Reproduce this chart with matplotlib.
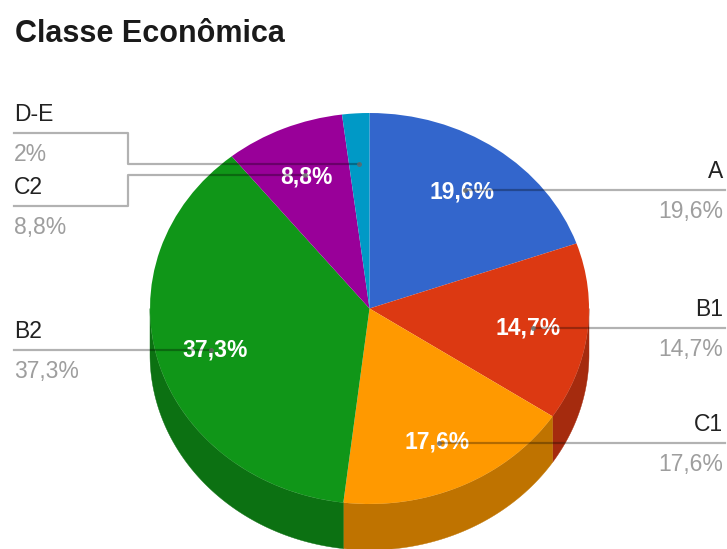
import numpy as np
import matplotlib.pyplot as plt

# Data
classes = ['A', 'B1', 'C1', 'B2', 'C2', 'D-E']
shares = [19.6, 14.7, 17.6, 37.3, 8.8, 2.0]
share_labels = ['19,6%', '14,7%', '17,6%', '37,3%', '8,8%', '2%']
colors = ['#3366cc', '#dc3912', '#ff9900', '#109618', '#990099', '#0099c6']

# Pie geometry in pixels
W, H = 727, 549
cx, cy = 369.5, 308.5
rx, ry = 219.5, 195.5
depth = 46
label_r = 0.75

plt.rcParams['font.family'] = ['Liberation Sans', 'DejaVu Sans']

fig = plt.figure(figsize=(W / 100, H / 100), dpi=100)

# Pie axes: unit circle stretched to an ellipse, y pointing up
ax = fig.add_axes([0, 0, 1, 1])
ax.pie(shares, colors=colors, startangle=90, counterclock=False, radius=1,
       wedgeprops={'linewidth': 0, 'zorder': 3})
ax.set_aspect('auto')
ax.set_xlim(-cx / rx, (W - cx) / rx)
ax.set_ylim((cy - H) / ry, cy / ry)
ax.axis('off')

# Clockwise angles from the top, slice edges and midpoints
edges = np.cumsum([0] + shares) / np.sum(shares) * 2 * np.pi
mids = (edges[:-1] + edges[1:]) / 2


def shade(hex_color, f=0.75):
    rgb = [int(hex_color[i:i + 2], 16) / 255 for i in (1, 3, 5)]
    return [c * f for c in rgb]


# Side wall, only the front half of the rim shows
drop = depth / ry
for i, col in enumerate(colors):
    a0 = max(edges[i], np.pi / 2)
    a1 = min(edges[i + 1], 3 * np.pi / 2)
    if a1 <= a0:
        continue
    t = np.linspace(a0, a1, 80)
    xs = np.concatenate([np.sin(t), np.sin(t[::-1])])
    ys = np.concatenate([np.cos(t), np.cos(t[::-1]) - drop])
    ax.fill(xs, ys, color=shade(col), lw=0.3, zorder=2)

# Overlay axes in pixel coordinates for leader lines and text
ov = fig.add_axes([0, 0, 1, 1], facecolor='none')
ov.set_xlim(0, W)
ov.set_ylim(H, 0)
ov.axis('off')

anchor_x = cx + label_r * rx * np.sin(mids)
anchor_y = cy + 1.5 - label_r * ry * np.cos(mids)

FS = 16.5
DARK = '#222222'
GREY = '#9e9e9e'
LINE = (0, 0, 0, 0.3)
LEFT, RIGHT = 14, 725
ELBOW = 128

# Rows of the outer labels that sit on an elbow line
row_y = {'C2': 206, 'D-E': 133}

for i, name in enumerate(classes):
    px, py = anchor_x[i], anchor_y[i]
    # thin slices get no label on the pie itself
    if shares[i] >= 5:
        text_x = cx + 0.73 * rx * np.sin(mids[i])
        text_y = cy + 2 - 0.74 * ry * np.cos(mids[i])
        ov.text(text_x, text_y, share_labels[i], color='white', fontsize=FS,
                fontweight='bold', ha='center', va='center', zorder=4)
    if name in ('A', 'B1', 'C1'):
        ov.plot([px, RIGHT], [py, py], color=LINE, lw=1.6, zorder=5)
        tx, ha, ty = RIGHT - 2, 'right', py
    elif name not in row_y:
        ov.plot([LEFT, px], [py, py], color=LINE, lw=1.6, zorder=5)
        tx, ha, ty = LEFT, 'left', py
    else:
        ty = row_y[name]
        ov.plot([LEFT, ELBOW, ELBOW, px], [ty, ty, py, py], color=LINE, lw=1.6, zorder=5)
        tx, ha = LEFT, 'left'
    ov.plot([px], [py], 'o', ms=3.6, color='#666666', mew=0, alpha=0.8, zorder=6)
    ov.text(tx, ty - 12, name, color=DARK, fontsize=FS, ha=ha, va='baseline')
    ov.text(tx, ty + 28, share_labels[i], color=GREY, fontsize=FS, ha=ha, va='baseline')

ov.text(15, 42, 'Classe Econômica', color='#1a1a1a', fontsize=22,
        fontweight='bold', ha='left', va='baseline')

fig.savefig('out.png', dpi=100)
